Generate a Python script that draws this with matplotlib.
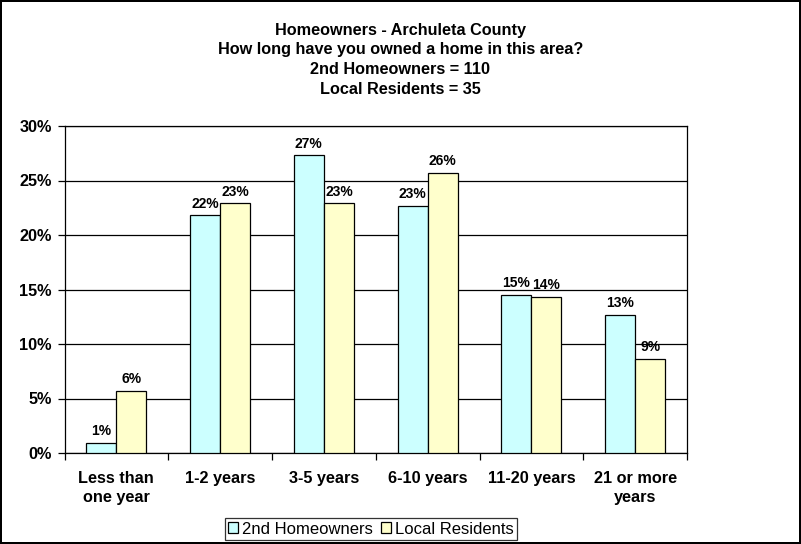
import matplotlib
matplotlib.use("Agg")
import matplotlib.pyplot as plt
import numpy as np
from matplotlib.ticker import FuncFormatter, MultipleLocator

categories = ["Less than\none year", "1-2 years", "3-5 years", "6-10 years", "11-20 years", "21 or more\nyears"]
second_home = [0.9, 21.8, 27.3, 22.7, 14.5, 12.7]
local_res = [5.7, 22.9, 22.9, 25.7, 14.3, 8.6]
series_names = ["2nd Homeowners", "Local Residents"]
title_lines = ["Homeowners - Archuleta County", "How long have you owned a home in this area?",
               "2nd Homeowners = 110", "Local Residents = 35"]

plt.rcParams['font.family'] = ['Liberation Sans', 'DejaVu Sans']

W, H = 801, 544
fig = plt.figure(figsize=(W/100, H/100), dpi=100)
fig.patch.set_edgecolor('black')
fig.patch.set_linewidth(1.5)
L, R, B, T = 64.5, 687, 453, 126
ax = fig.add_axes([L/W, 1-B/H, (R-L)/W, (B-T)/H])

x = np.arange(len(categories))
w = 0.29
b1 = ax.bar(x - w/2, second_home, w, color='#CCFFFF', edgecolor='black', linewidth=0.9, label=series_names[0], zorder=3)
b2 = ax.bar(x + w/2, local_res, w, color='#FFFFCC', edgecolor='black', linewidth=0.9, label=series_names[1], zorder=3)

def pct(v):
    return f"{int(v + 0.5)}%"

for bars, vals in ((b1, second_home), (b2, local_res)):
    for r, v in zip(bars, vals):
        ax.annotate(pct(v), (r.get_x() + r.get_width()/2, v), xytext=(0, 3.5), textcoords='offset points',
                    ha='center', va='bottom', fontsize=10, fontweight='bold')

ax.set_xlim(-0.5, len(categories) - 0.5)
ax.set_ylim(0, 30)
ax.yaxis.set_major_locator(MultipleLocator(5))
ax.yaxis.set_major_formatter(FuncFormatter(lambda v, p: f"{v:.0f}%"))
ax.yaxis.grid(True, color='black', linewidth=0.9, zorder=0)
ax.set_axisbelow(True)

ax.set_xticks(np.arange(-0.5, len(categories)), minor=False)
ax.set_xticklabels([])
ax.set_xticks(x, minor=True)
ax.set_xticklabels(categories, minor=True, fontsize=11.7, fontweight='bold', linespacing=1.3)
ax.tick_params(axis='x', which='minor', length=0, pad=13)
ax.tick_params(axis='x', which='major', length=5, width=0.9, direction='out', color='black')
ax.tick_params(axis='y', length=5, width=0.9, direction='out', labelsize=11.7, pad=4)
for lab in ax.get_yticklabels():
    lab.set_fontweight('bold')
for s in ax.spines.values():
    s.set_color('black')
    s.set_linewidth(0.9)

y0, step = 30, 19.9
for i, line in enumerate(title_lines):
    fig.text(0.5, 1 - (y0 + i*step)/H, line, ha='center', va='center',
             fontsize=11.7, fontweight='bold')

leg = fig.legend(handles=[b1, b2], labels=series_names, loc='center', bbox_to_anchor=(371/W, 1-529/H),
                 ncol=2, fontsize=12, frameon=True, fancybox=False, edgecolor='black',
                 handlelength=0.6, handleheight=0.6, handletextpad=0.25, columnspacing=0.5,
                 borderpad=0.2, borderaxespad=0)
leg.get_frame().set_linewidth(0.9)

fig.savefig("out.png", dpi=100, edgecolor=fig.get_edgecolor())
